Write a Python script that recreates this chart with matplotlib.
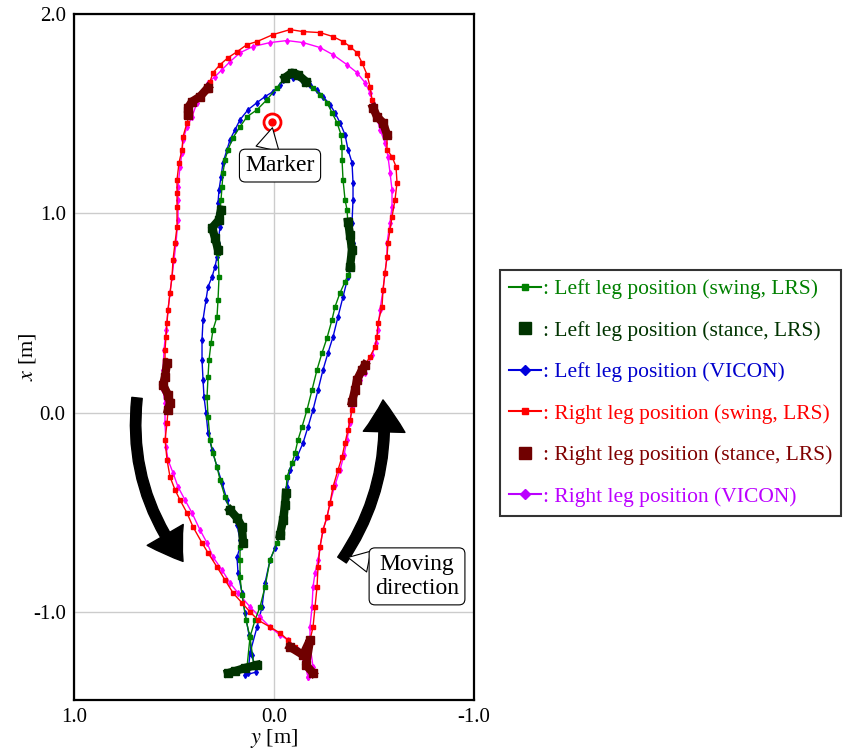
import matplotlib
matplotlib.use('Agg')
import matplotlib.pyplot as plt
from matplotlib.lines import Line2D
from matplotlib.patches import FancyArrowPatch

plt.rcParams['font.family'] = 'Liberation Serif'
plt.rcParams['mathtext.fontset'] = 'stix'
plt.rcParams['axes.unicode_minus'] = False

# Left leg, LRS estimate (y [m], x [m])
left_lrs_y = [0.135, 0.12, 0.095, 0.07, 0.045, 0.02, -0.015, -0.04, -0.055, -0.06,
              -0.065, -0.09, -0.105, -0.12, -0.14, -0.165, -0.19, -0.215, -0.24, -0.265,
              -0.29, -0.305, -0.33, -0.355, -0.37, -0.39, -0.38, -0.37, -0.365, -0.355,
              -0.345, -0.34, -0.34, -0.335, -0.315, -0.29, -0.265, -0.23, -0.195, -0.165,
              -0.145, -0.11, -0.08, -0.055, -0.015, 0.035, 0.085, 0.135, 0.17, 0.205,
              0.23, 0.245, 0.255, 0.26, 0.265, 0.27, 0.31, 0.285, 0.28, 0.275,
              0.28, 0.285, 0.305, 0.315, 0.325, 0.33, 0.335, 0.33, 0.32, 0.305,
              0.285, 0.27, 0.245, 0.22, 0.185, 0.16, 0.155, 0.17, 0.17, 0.17,
              0.16, 0.14, 0.12, 0.10]
left_lrs_x = [-1.274, -1.124, -1.039, -0.973, -0.873, -0.738, -0.652, -0.602, -0.502, -0.401,
              -0.321, -0.251, -0.201, -0.135, -0.070, 0.015, 0.115, 0.216, 0.301, 0.376,
              0.467, 0.532, 0.602, 0.657, 0.693, 0.733, 0.843, 0.943, 1.019, 1.069,
              1.169, 1.270, 1.335, 1.395, 1.455, 1.505, 1.556, 1.596, 1.631, 1.656,
              1.671, 1.700, 1.706, 1.681, 1.631, 1.571, 1.520, 1.485, 1.435, 1.380,
              1.320, 1.270, 1.204, 1.134, 1.069, 1.009, 0.928, 0.853, 0.803, 0.682,
              0.567, 0.482, 0.417, 0.351, 0.266, 0.181, 0.080, -0.020, -0.135, -0.201,
              -0.271, -0.336, -0.421, -0.487, -0.527, -0.572, -0.637, -0.672, -0.738, -0.823,
              -0.913, -1.039, -1.124, -1.274]

# Left leg stance phases (LRS)
left_stance_y = [[0.085, 0.145, 0.195, 0.23],
                 [-0.03, -0.045, -0.055, -0.06],
                 [-0.38, -0.39, -0.38, -0.37],
                 [-0.16, -0.12, -0.09, -0.055],
                 [0.265, 0.275, 0.31, 0.295, 0.28],
                 [0.22, 0.185, 0.16, 0.155]]
left_stance_x = [[-1.264, -1.279, -1.295, -1.305],
                 [-0.612, -0.537, -0.462, -0.401],
                 [0.733, 0.818, 0.893, 0.958],
                 [1.661, 1.696, 1.706, 1.681],
                 [1.019, 0.968, 0.928, 0.878, 0.818],
                 [-0.487, -0.527, -0.572, -0.652]]

# Left leg, VICON
left_vicon_y = [0.13, 0.12, 0.085, 0.06, 0.045, 0.02, -0.005, -0.03, -0.045, -0.065,
                -0.08, -0.115, -0.145, -0.17, -0.195, -0.22, -0.245, -0.27, -0.295, -0.32,
                -0.345, -0.37, -0.39, -0.395, -0.39, -0.395, -0.395, -0.39, -0.37, -0.355,
                -0.33, -0.305, -0.28, -0.245, -0.215, -0.18, -0.145, -0.095, -0.045, -0.03,
                0.005, 0.045, 0.085, 0.13, 0.17, 0.195, 0.22, 0.235, 0.255, 0.265,
                0.275, 0.28, 0.28, 0.27, 0.28, 0.285, 0.295, 0.31, 0.33, 0.34,
                0.355, 0.36, 0.36, 0.355, 0.35, 0.34, 0.33, 0.31, 0.285, 0.26,
                0.235, 0.21, 0.185, 0.17, 0.17, 0.185, 0.18, 0.16, 0.145, 0.125,
                0.11, 0.09, 0.145]
left_vicon_x = [-1.305, -1.204, -1.074, -0.973, -0.853, -0.738, -0.678, -0.612, -0.487, -0.371,
                -0.286, -0.221, -0.151, -0.070, 0.015, 0.115, 0.216, 0.301, 0.381, 0.482,
                0.582, 0.682, 0.733, 0.853, 0.953, 1.069, 1.154, 1.255, 1.320, 1.395,
                1.455, 1.505, 1.546, 1.586, 1.621, 1.646, 1.661, 1.681, 1.671, 1.646,
                1.611, 1.586, 1.556, 1.520, 1.470, 1.420, 1.370, 1.320, 1.255, 1.184,
                1.119, 1.054, 1.004, 0.933, 0.853, 0.783, 0.733, 0.682, 0.632, 0.567,
                0.467, 0.366, 0.266, 0.166, 0.080, 0.0, -0.100, -0.186, -0.271, -0.351,
                -0.437, -0.502, -0.562, -0.637, -0.672, -0.723, -0.803, -0.903, -1.004, -1.114,
                -1.214, -1.300, -1.315]

# Right leg, LRS estimate
right_lrs_y = [-0.18, -0.195, -0.205, -0.215, -0.22, -0.23, -0.245, -0.265, -0.28, -0.295,
               -0.32, -0.34, -0.355, -0.37, -0.38, -0.39, -0.39, -0.405, -0.415, -0.44,
               -0.455, -0.48, -0.505, -0.515, -0.52, -0.54, -0.545, -0.555, -0.565, -0.57,
               -0.58, -0.59, -0.605, -0.615, -0.61, -0.59, -0.565, -0.565, -0.545, -0.515,
               -0.495, -0.49, -0.48, -0.465, -0.44, -0.415, -0.38, -0.345, -0.295, -0.23,
               -0.145, -0.08, 0.005, 0.085, 0.135, 0.185, 0.23, 0.27, 0.305, 0.32,
               0.33, 0.37, 0.41, 0.43, 0.42, 0.435, 0.455, 0.46, 0.475, 0.485,
               0.485, 0.485, 0.485, 0.495, 0.505, 0.51, 0.52, 0.53, 0.535, 0.54,
               0.545, 0.545, 0.535, 0.545, 0.555, 0.53, 0.52, 0.53, 0.535, 0.545,
               0.535, 0.52, 0.495, 0.47, 0.435, 0.405, 0.36, 0.33, 0.285, 0.245,
               0.205, 0.16, 0.12, 0.08, 0.02, -0.03, -0.07, -0.105]
right_lrs_x = [-1.139, -1.074, -0.973, -0.873, -0.773, -0.672, -0.587, -0.522, -0.452, -0.371,
               -0.286, -0.221, -0.151, -0.085, -0.035, 0.015, 0.055, 0.115, 0.166, 0.226,
               0.241, 0.281, 0.331, 0.381, 0.452, 0.532, 0.617, 0.703, 0.783, 0.853,
               0.918, 0.984, 1.069, 1.154, 1.235, 1.285, 1.320, 1.395, 1.455, 1.485,
               1.531, 1.571, 1.636, 1.696, 1.756, 1.806, 1.837, 1.862, 1.887, 1.907,
               1.912, 1.922, 1.897, 1.862, 1.847, 1.811, 1.781, 1.746, 1.706, 1.661,
               1.621, 1.586, 1.561, 1.531, 1.505, 1.455, 1.385, 1.320, 1.255, 1.169,
               1.104, 1.034, 0.933, 0.853, 0.768, 0.682, 0.602, 0.517, 0.452, 0.381,
               0.316, 0.266, 0.251, 0.181, 0.151, 0.100, 0.050, 0.015, -0.050, -0.135,
               -0.236, -0.321, -0.386, -0.437, -0.502, -0.572, -0.652, -0.702, -0.773, -0.838,
               -0.903, -0.953, -0.998, -1.039, -1.074, -1.104, -1.139, -1.174]

# Right leg stance phases (LRS)
right_stance_y = [[-0.08, -0.145, -0.18, -0.16, -0.195],
                  [-0.39, -0.405, -0.415, -0.44, -0.455],
                  [-0.495, -0.515, -0.545, -0.565],
                  [0.33, 0.37, 0.41, 0.43, 0.43],
                  [0.535, 0.545, 0.555, 0.53, 0.52, 0.53]]
right_stance_x = [[-1.174, -1.214, -1.139, -1.264, -1.305],
                  [0.055, 0.115, 0.166, 0.216, 0.241],
                  [1.531, 1.485, 1.455, 1.395],
                  [1.631, 1.586, 1.561, 1.531, 1.495],
                  [0.251, 0.181, 0.141, 0.090, 0.050, 0.015]]

# Right leg, VICON
right_vicon_y = [-0.17, -0.195, -0.18, -0.18, -0.19, -0.195, -0.205, -0.22, -0.23, -0.245,
                 -0.265, -0.28, -0.305, -0.33, -0.35, -0.365, -0.38, -0.39, -0.405, -0.43,
                 -0.455, -0.49, -0.51, -0.52, -0.53, -0.545, -0.555, -0.565, -0.565, -0.58,
                 -0.59, -0.59, -0.58, -0.57, -0.555, -0.53, -0.495, -0.48, -0.455, -0.415,
                 -0.365, -0.295, -0.23, -0.145, -0.065, 0.02, 0.105, 0.17, 0.22, 0.26,
                 0.295, 0.33, 0.355, 0.385, 0.41, 0.435, 0.455, 0.46, 0.47, 0.48,
                 0.48, 0.48, 0.49, 0.50, 0.51, 0.52, 0.53, 0.54, 0.55, 0.555,
                 0.555, 0.545, 0.545, 0.54, 0.53, 0.505, 0.48, 0.445, 0.41, 0.37,
                 0.335, 0.305, 0.26, 0.22, 0.18, 0.12, 0.07, 0.02, -0.03, -0.07,
                 -0.12, -0.155, -0.17]
right_vicon_x = [-1.325, -1.274, -1.164, -1.074, -0.973, -0.873, -0.803, -0.738, -0.672, -0.587,
                 -0.522, -0.452, -0.361, -0.286, -0.211, -0.135, -0.050, 0.030, 0.100, 0.166,
                 0.201, 0.291, 0.351, 0.417, 0.517, 0.617, 0.703, 0.783, 0.853, 0.953,
                 1.034, 1.119, 1.204, 1.285, 1.355, 1.420, 1.556, 1.606, 1.656, 1.706,
                 1.746, 1.796, 1.832, 1.857, 1.867, 1.857, 1.837, 1.806, 1.761, 1.721,
                 1.686, 1.656, 1.611, 1.556, 1.485, 1.435, 1.370, 1.305, 1.235, 1.134,
                 1.069, 0.969, 0.853, 0.768, 0.682, 0.602, 0.517, 0.417, 0.316, 0.216,
                 0.115, 0.050, -0.050, -0.171, -0.236, -0.301, -0.371, -0.437, -0.502, -0.587,
                 -0.652, -0.723, -0.788, -0.853, -0.903, -0.973, -1.024, -1.074, -1.114, -1.139,
                 -1.189, -1.264, -1.325]

# position of the body marker
marker_y = [0.01]
marker_x = [1.46]

c_green = '#008000'
c_green_dark = '#003300'
c_blue = '#0000dd'
c_red = '#ff0000'
c_red_dark = '#700000'
c_magenta = '#ff00ff'
c_purple = '#bb00ff'

fig = plt.figure(figsize=(8.46, 7.51), dpi=100)
ax = fig.add_axes([0.0875, 0.0679, 0.4728, 0.9134])

ax.plot(left_vicon_y, left_vicon_x, color=c_blue, lw=1.0, marker='d', ms=3, zorder=3)
ax.plot(left_lrs_y, left_lrs_x, color=c_green, lw=1.0, marker='s', ms=2.2, zorder=4)
ax.plot(right_vicon_y, right_vicon_x, color=c_magenta, lw=1.0, marker='d', ms=3, zorder=3)
ax.plot(right_lrs_y, right_lrs_x, color=c_red, lw=1.0, marker='s', ms=2.2, zorder=4)

for sy, sx in zip(left_stance_y, left_stance_x):
    ax.plot(sy, sx, color=c_green_dark, lw=6, marker='s', ms=6, solid_capstyle='projecting', zorder=5)
for sy, sx in zip(right_stance_y, right_stance_x):
    ax.plot(sy, sx, color=c_red_dark, lw=6, marker='s', ms=6, solid_capstyle='projecting', zorder=5)

# marker target symbol
ax.scatter(marker_y, marker_x, s=150, facecolor='white', edgecolor=c_red, linewidth=2, zorder=6)
ax.scatter(marker_y, marker_x, s=25, color=c_red, zorder=7)

ax.annotate('Marker', xy=(0.008, 1.43), xytext=(-0.03, 1.24), ha='center', va='center',
            fontsize=17, zorder=8,
            bbox=dict(boxstyle='round,pad=0.25', fc='white', ec='black', lw=0.8),
            arrowprops=dict(arrowstyle='wedge,tail_width=1.0', fc='white', ec='black', lw=0.8,
                            relpos=(0.3, 1.0), shrinkA=0, shrinkB=0))
ax.annotate('Moving\ndirection', xy=(-0.37, -0.725), xytext=(-0.715, -0.82), ha='center',
            va='center', fontsize=17, linespacing=1.2, zorder=8,
            bbox=dict(boxstyle='round,pad=0.25', fc='white', ec='black', lw=0.8),
            arrowprops=dict(arrowstyle='wedge,tail_width=0.9', fc='white', ec='black', lw=0.8,
                            relpos=(0.0, 0.8), shrinkA=0, shrinkB=0))

# moving direction arrows
arr1 = FancyArrowPatch((0.685, 0.075), (0.455, -0.745), connectionstyle='arc3,rad=0.2',
                       arrowstyle='simple,head_length=2.3,head_width=3.0,tail_width=0.75',
                       mutation_scale=10, color='black', shrinkA=0, shrinkB=0, zorder=7)
arr2 = FancyArrowPatch((-0.34, -0.738), (-0.545, 0.065), connectionstyle='arc3,rad=0.18',
                       arrowstyle='simple,head_length=2.3,head_width=3.0,tail_width=0.75',
                       mutation_scale=10, color='black', shrinkA=0, shrinkB=0, zorder=7)
ax.add_patch(arr1)
ax.add_patch(arr2)

ax.set_xlim(1.0, -1.0)
ax.set_ylim(-1.44, 2.0)
ax.set_xticks([1.0, 0.0, -1.0])
ax.set_yticks([-1.0, 0.0, 1.0, 2.0])
ax.set_xticklabels(['1.0', '0.0', '-1.0'])
ax.set_yticklabels(['-1.0', '0.0', '1.0', '2.0'])
ax.tick_params(length=0, labelsize=15, pad=6)
ax.grid(True, color='#cccccc', lw=1.0)
ax.set_axisbelow(True)
for sp in ax.spines.values():
    sp.set_linewidth(1.6)
ax.set_xlabel(r'$y$ [m]', fontsize=16, labelpad=0)
ax.set_ylabel(r'$x$ [m]', fontsize=16, labelpad=-4)

handles = [
    Line2D([], [], color=c_green, lw=1.5, marker='s', ms=5),
    Line2D([], [], color=c_green_dark, lw=0, marker='s', ms=8),
    Line2D([], [], color=c_blue, lw=1.5, marker='D', ms=5),
    Line2D([], [], color=c_red, lw=1.5, marker='s', ms=5),
    Line2D([], [], color=c_red_dark, lw=0, marker='s', ms=8),
    Line2D([], [], color=c_purple, lw=1.5, marker='D', ms=5),
]
labels = [': Left leg position (swing, LRS)',
          ': Left leg position (stance, LRS)',
          ': Left leg position (VICON)',
          ': Right leg position (swing, LRS)',
          ': Right leg position (stance, LRS)',
          ': Right leg position (VICON)']
text_colors = [c_green, c_green_dark, '#0000cc', c_red, '#800000', c_purple]
leg = fig.legend(handles, labels, loc='upper left', bbox_to_anchor=(0.591, 0.64),
                 fontsize=15.5, frameon=True, fancybox=False, edgecolor='black',
                 handlelength=1.5, handletextpad=0.1, labelspacing=1.0, borderpad=0.4,
                 borderaxespad=0)
leg.get_frame().set_linewidth(1.5)
for t, c in zip(leg.get_texts(), text_colors):
    t.set_color(c)

fig.savefig('out.png', dpi=100)
